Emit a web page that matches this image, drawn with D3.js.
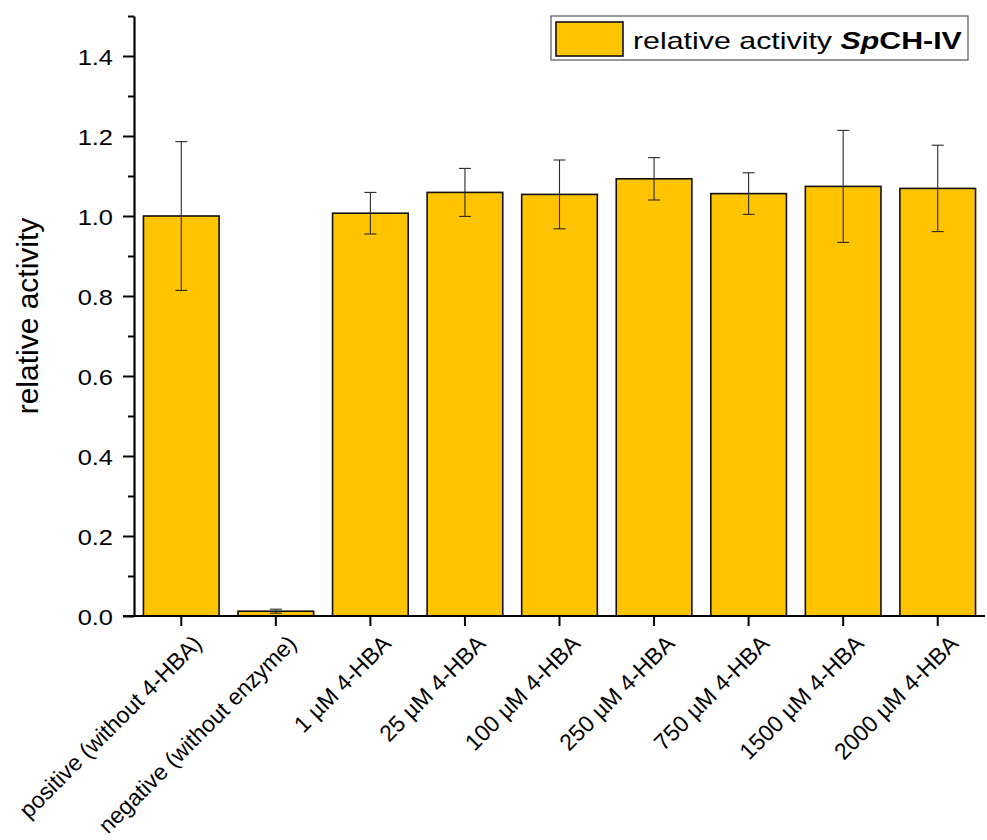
<!DOCTYPE html>
<html>
<head>
<meta charset="utf-8">
<script src="https://cdn.jsdelivr.net/npm/d3@7"></script>
<style>
  html, body { margin: 0; padding: 0; background: #ffffff; }
  svg { display: block; font-family: "Liberation Sans", Arial, sans-serif; }
</style>
</head>
<body>
<svg id="chart" width="987" height="840"></svg>
<script>
// Relative activity of SpCH-IV under different 4-HBA conditions
const categories = [
  "positive (without 4-HBA)",
  "negative (without enzyme)",
  "1 µM 4-HBA",
  "25 µM 4-HBA",
  "100 µM 4-HBA",
  "250 µM 4-HBA",
  "750 µM 4-HBA",
  "1500 µM 4-HBA",
  "2000 µM 4-HBA"
];
const activity = [1.000, 0.012, 1.007, 1.059, 1.054, 1.093, 1.056, 1.074, 1.069];
const activityErr = [0.186, 0.005, 0.052, 0.060, 0.086, 0.053, 0.052, 0.140, 0.108];
const majorTicks = [0.0, 0.2, 0.4, 0.6, 0.8, 1.0, 1.2, 1.4];
const minorTicks = [0.1, 0.3, 0.5, 0.7, 0.9, 1.1, 1.3, 1.5];
const yLabel = "relative activity";

const svg = d3.select("#chart");
const margin = { left: 134, right: 2, top: 16, bottom: 224 };
const W = 987, H = 840;
const BAR_FILL = "#ffc400";

const x = d3.scaleBand()
  .domain(categories)
  .range([margin.left, W - margin.right])
  .paddingInner(0.2)
  .paddingOuter(0.1);

const y = d3.scaleLinear()
  .domain([0, 1.5])
  .range([H - margin.bottom, margin.top]);

const data = categories.map((c, i) => ({ c, v: activity[i], e: activityErr[i] }));

// bars
svg.append("g")
  .selectAll("rect")
  .data(data)
  .join("rect")
  .attr("x", d => x(d.c))
  .attr("y", d => y(d.v))
  .attr("width", x.bandwidth())
  .attr("height", d => y(0) - y(d.v))
  .attr("fill", BAR_FILL)
  .attr("stroke", "#111")
  .attr("stroke-width", 1.6);

// error bars
const eb = svg.append("g").attr("stroke", "#2a2a2a").attr("stroke-width", 1.1);
const capW = 12;
data.forEach(d => {
  const cx = x(d.c) + x.bandwidth() / 2;
  eb.append("line").attr("x1", cx).attr("x2", cx).attr("y1", y(d.v + d.e)).attr("y2", y(d.v - d.e));
  eb.append("line").attr("x1", cx - capW / 2).attr("x2", cx + capW / 2).attr("y1", y(d.v + d.e)).attr("y2", y(d.v + d.e));
  eb.append("line").attr("x1", cx - capW / 2).attr("x2", cx + capW / 2).attr("y1", y(d.v - d.e)).attr("y2", y(d.v - d.e));
});

// y axis: minor ticks
svg.append("g")
  .attr("transform", `translate(${margin.left},0)`)
  .call(d3.axisLeft(y).tickValues(minorTicks).tickSize(6).tickFormat(""))
  .call(g => g.select(".domain").remove())
  .call(g => g.selectAll("line").attr("stroke", "#000").attr("stroke-width", 2));

// y axis: major ticks with labels
const yAxis = svg.append("g")
  .attr("transform", `translate(${margin.left},0)`)
  .call(d3.axisLeft(y).tickValues(majorTicks).tickSize(11).tickSizeOuter(0).tickFormat(d3.format(".1f")));
yAxis.select(".domain").attr("stroke", "#000").attr("stroke-width", 2.2);
yAxis.selectAll(".tick line").attr("stroke", "#000").attr("stroke-width", 2);
yAxis.selectAll(".tick text")
  .attr("font-size", 22.5)
  .attr("font-family", "'Liberation Sans', Arial, sans-serif")
  .attr("fill", "#000")
  .attr("x", -18.6)
  .attr("dy", "0.36em")
  .attr("transform", "scale(1.13,1)");

// x axis
const xAxis = svg.append("g")
  .attr("transform", `translate(0,${y(0)})`)
  .call(d3.axisBottom(x).tickSize(10).tickSizeOuter(0));
xAxis.select(".domain").attr("stroke", "#000").attr("stroke-width", 2.2)
  .attr("d", `M${margin.left - 11},0H${W - margin.right}`);
xAxis.selectAll(".tick line").attr("stroke", "#000").attr("stroke-width", 2);
xAxis.selectAll(".tick text")
  .attr("font-size", 23)
  .attr("font-family", "'Liberation Sans', Arial, sans-serif")
  .attr("fill", "#000")
  .attr("text-anchor", "end")
  .attr("x", 0).attr("y", 0).attr("dy", 0)
  .attr("transform", "translate(22,29) rotate(-45)");

// y axis title
svg.append("text")
  .attr("transform", `translate(38,${(y(0) + y(1.5)) / 2}) rotate(-90)`)
  .attr("text-anchor", "middle")
  .attr("font-size", 30)
  .attr("fill", "#000")
  .text(yLabel);

// legend
const leg = svg.append("g");
leg.append("rect")
  .attr("x", 551).attr("y", 16).attr("width", 417).attr("height", 44)
  .attr("fill", "#fff").attr("stroke", "#555").attr("stroke-width", 1.2);
leg.append("rect")
  .attr("x", 556).attr("y", 22).attr("width", 67).attr("height", 34)
  .attr("fill", BAR_FILL).attr("stroke", "#111").attr("stroke-width", 1.6);
const lt = leg.append("text")
  .attr("x", 0).attr("y", 0)
  .attr("font-size", 23)
  .attr("fill", "#000");
lt.append("tspan").text("relative activity ");
lt.append("tspan").attr("font-weight", "bold").attr("font-style", "italic").text("Sp");
lt.append("tspan").attr("font-weight", "bold").text("CH-IV");
const legLen = lt.node().getComputedTextLength();
lt.attr("transform", `translate(633,49) scale(${329 / legLen},1)`);
</script>
</body>
</html>
